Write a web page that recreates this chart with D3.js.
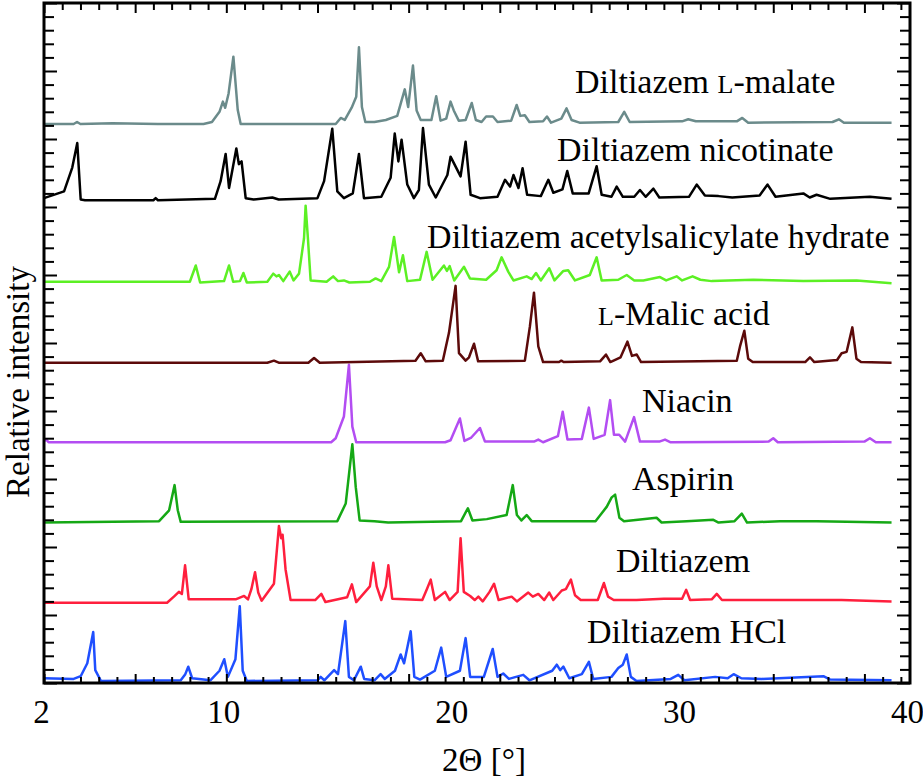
<!DOCTYPE html>
<html>
<head>
<meta charset="utf-8">
<script src="https://cdn.jsdelivr.net/npm/d3@7"></script>
<style>
  body { margin: 0; background: #fff; }
  svg { display: block; }
  text { font-family: "Liberation Serif", "Times New Roman", serif; fill: #000; }
</style>
</head>
<body>
<div id="chart"></div>
<script>
// PXRD patterns, [2theta, relative intensity]
const hcl = [[2.0,0.4],[3.3,0.3],[3.61,0.7],[3.9,2.6],[4.16,7.2],[4.25,1.6],[4.5,0],[8.0,0.1],[8.2,1.0],[8.33,2.1],[8.5,0.4],[9.3,0.1],[9.7,1.5],[9.91,3.2],[10.07,0.6],[10.4,3.2],[10.59,11.0],[10.72,1.5],[10.9,0],[14.0,0.1],[14.14,0.6],[14.3,0.1],[14.73,1.6],[14.9,1.0],[15.22,8.8],[15.38,0.6],[15.6,0.1],[15.9,2.1],[16.05,0.3],[16.5,0.1],[16.77,1.0],[16.95,0.3],[17.4,1.5],[17.65,3.9],[17.8,2.6],[18.09,7.3],[18.25,0.6],[18.5,0.2],[19.15,1.5],[19.43,4.9],[19.65,0.6],[20.25,1.5],[20.5,6.3],[20.7,0.6],[21.3,0.6],[21.69,4.7],[21.9,0.6],[22.15,1.1],[22.4,0.3],[23.03,0.9],[23.3,0.1],[24.3,1.5],[24.5,2.4],[24.65,1.6],[24.79,2.1],[25.05,0.4],[25.6,1.0],[25.91,2.8],[26.1,0.3],[26.9,0.6],[27.2,1.9],[27.4,2.4],[27.57,3.9],[27.75,0.6],[28.0,0],[29.5,0.3],[29.83,0.9],[30.1,0.1],[31.45,0.6],[32.0,0.4],[32.26,1.0],[32.6,0.4],[33.5,0.3],[36.2,0.7],[36.5,0.2],[39.19,0.1]];

const diltiazem = [[2.0,0],[7.4,0],[7.7,0.9],[7.92,1.6],[8.05,1.3],[8.19,5.5],[8.35,0.5],[10.41,0.5],[10.78,1.0],[10.95,0.5],[11.1,2.0],[11.26,4.5],[11.4,1.5],[11.55,0.3],[12.09,2.8],[12.31,11.3],[12.41,9.5],[12.47,10.0],[12.6,4.9],[12.82,0.4],[13.9,0.4],[14.17,1.3],[14.35,0.1],[15.3,0.8],[15.51,2.7],[15.7,0.1],[16.3,2.4],[16.45,5.9],[16.6,2.4],[16.8,0.4],[17.0,2.4],[17.11,5.5],[17.28,0.6],[18.6,0.4],[18.8,2.0],[18.97,3.4],[19.15,0.4],[19.6,1.6],[19.8,0.4],[20.15,1.6],[20.28,9.5],[20.42,1.6],[20.7,1.0],[20.9,0.4],[21.06,0.9],[21.25,0.2],[21.55,1.6],[21.75,2.8],[21.95,0.4],[22.52,0.9],[22.75,0.2],[23.25,1.5],[23.45,0.9],[23.69,1.3],[23.95,0.4],[24.17,1.5],[24.35,0.4],[24.72,1.8],[24.9,2.0],[25.12,3.4],[25.3,1.1],[25.55,0.4],[26.3,0.4],[26.57,2.9],[26.75,0.9],[27.0,0.4],[28.0,0.4],[29.2,0.6],[30.0,0.6],[30.18,1.9],[30.35,0.4],[31.3,0.5],[31.52,1.3],[31.75,0.4],[35.0,0.4],[37.0,0.4],[39.19,0.2]];

const aspirin = [[2.0,0.1],[7.05,0.3],[7.49,1.9],[7.73,5.6],[7.87,1.9],[8.0,0.2],[14.87,0.3],[15.24,2.9],[15.53,11.6],[15.68,5.3],[15.85,0.4],[16.5,0.3],[17.1,0.1],[20.3,0.3],[20.6,2.2],[20.8,0.4],[21.43,0.6],[22.3,1.2],[22.57,5.6],[22.75,1.2],[22.95,0.4],[23.18,1.2],[23.4,0.3],[24.15,0.3],[26.2,0.3],[26.69,2.4],[26.91,3.8],[27.06,4.2],[27.25,0.8],[27.45,0.3],[28.88,0.8],[29.1,0.1],[30.2,0.3],[31.37,0.5],[31.6,0.1],[32.3,0.3],[32.62,1.4],[32.85,0.1],[34.3,0.3],[35.9,0.3],[39.19,0.1]];

const niacin = [[2.0,0.3],[2.1,0.5],[2.2,0.1],[14.6,0.1],[14.8,0.7],[15.16,3.9],[15.38,11.5],[15.53,2.4],[15.7,0.1],[19.6,0.1],[19.84,0.4],[20.25,3.6],[20.45,0.3],[20.75,0.8],[21.13,2.2],[21.35,0.2],[23.5,0.2],[23.69,0.5],[23.9,0.1],[24.55,1.0],[24.76,4.6],[24.97,0.5],[25.6,0.6],[25.91,5.2],[26.12,0.6],[26.6,1.2],[26.84,6.3],[27.01,1.2],[27.24,1.2],[27.5,0.2],[27.89,3.8],[28.15,0.2],[29.0,0.2],[29.25,0.5],[29.5,0.1],[33.8,0.2],[34.0,0.7],[34.2,0.1],[38.0,0.2],[38.24,0.7],[38.5,0.1],[39.19,0.1]];

const malicAcid = [[2.0,0],[11.8,0],[12.09,0.3],[12.3,0],[13.6,0],[13.85,0.7],[14.1,0],[18.3,0.3],[18.53,1.4],[18.75,0.2],[19.5,0.3],[19.77,4.4],[20.06,11.3],[20.21,1.4],[20.5,0.3],[20.65,0.8],[20.87,2.8],[21.05,0.2],[23.1,0.3],[23.32,5.3],[23.5,10.3],[23.69,2.4],[23.9,0.1],[24.6,0.1],[24.7,0.3],[24.8,0.1],[26.4,0.2],[26.66,1.2],[26.85,0.1],[27.3,0.8],[27.6,3.1],[27.8,1.0],[28.01,1.2],[28.2,0.1],[32.4,0.3],[32.54,2.4],[32.73,4.7],[32.9,0.6],[33.1,0.1],[35.4,0.1],[35.61,0.8],[35.8,0.1],[36.8,0.4],[37.0,1.4],[37.22,1.6],[37.47,5.2],[37.65,0.6],[37.85,0.1],[39.19,0]];

const acetylsalicylate = [[2.0,0.2],[8.4,0.2],[8.66,2.6],[8.85,0.1],[9.9,0.3],[10.12,2.6],[10.3,0.2],[10.6,0.3],[10.75,1.5],[10.9,0.1],[11.8,0.2],[12.06,1.4],[12.2,1.0],[12.31,1.2],[12.5,0.3],[12.78,1.7],[12.95,0.4],[13.19,1.4],[13.41,6.6],[13.48,11.4],[13.58,6.6],[13.7,0.4],[14.4,0.2],[14.69,1.0],[14.9,0.3],[15.16,0.4],[15.4,0.1],[16.3,0.2],[16.55,0.7],[16.8,0.3],[17.14,2.4],[17.36,6.8],[17.58,1.6],[17.75,4.1],[17.94,0.3],[18.5,0.5],[18.79,4.6],[19.05,0.5],[19.55,2.6],[19.68,1.8],[19.8,2.5],[20.0,0.4],[20.43,2.4],[20.69,0.7],[21.4,0.5],[21.86,1.9],[22.08,3.8],[22.37,1.7],[22.6,0.4],[23.18,1.0],[23.4,0.6],[23.59,1.5],[23.8,0.4],[24.17,2.2],[24.4,0.4],[24.79,1.8],[25.0,1.9],[25.3,0.4],[25.95,1.2],[26.25,3.8],[26.47,0.4],[27.2,0.5],[27.57,1.2],[27.9,0.4],[28.3,0.4],[29.03,0.9],[29.3,0.4],[29.76,1.0],[30.0,0.4],[30.46,1.0],[30.8,0.5],[31.3,0.3],[33.12,0.5],[35.32,0.3],[37.66,0.4],[39.19,0]];

const nicotinate = [[2.0,0.3],[2.88,1.3],[3.24,4.8],[3.46,8.4],[3.61,0.1],[3.8,0],[6.8,0],[6.9,0.3],[7.0,0],[9.5,0.2],[9.75,2.8],[9.97,6.8],[10.12,1.8],[10.44,7.6],[10.55,5.3],[10.67,5.7],[10.85,0.3],[11.2,0.1],[12.02,0.4],[12.3,0.1],[14.0,0.3],[14.29,2.8],[14.65,10.5],[14.87,1.3],[15.16,0.3],[15.55,1.0],[15.82,6.8],[16.04,0.3],[16.8,0.5],[17.21,3.3],[17.39,9.8],[17.55,5.7],[17.69,8.9],[17.94,2.3],[18.23,0.3],[18.45,1.5],[18.63,10.6],[18.89,2.3],[19.19,0.4],[19.7,3.7],[19.84,6.4],[20.28,3.5],[20.5,8.6],[20.72,0.8],[21.13,0.3],[21.9,0.5],[22.23,3.0],[22.45,2.0],[22.6,3.7],[22.82,1.8],[23.0,4.7],[23.2,0.8],[23.8,0.6],[24.13,3.0],[24.35,1.1],[24.75,1.6],[24.96,4.3],[25.2,1.0],[25.9,1.0],[26.25,5.0],[26.47,0.8],[26.9,0.5],[27.13,2.0],[27.4,0.5],[27.9,0.5],[28.15,1.5],[28.4,0.5],[28.74,1.7],[29.0,0.4],[30.3,0.5],[30.64,2.3],[31.0,0.7],[31.6,0.6],[32.2,0.4],[33.4,0.7],[33.75,2.3],[34.1,0.5],[35.32,1.0],[35.6,0.4],[35.9,0.8],[36.5,0.2],[38.24,0.5],[39.19,0.2]];

const lMalate = [[2.0,0],[3.3,0],[3.45,0.3],[3.6,0],[5.0,0.1],[7.0,0],[9.0,0],[9.37,0.3],[9.7,1.8],[9.85,3.3],[9.95,2.4],[10.1,4.5],[10.31,9.9],[10.5,2.1],[10.63,0],[14.8,0],[15.02,0.9],[15.2,0.6],[15.5,2.4],[15.7,4.0],[15.82,11.3],[15.95,2.5],[16.1,0.3],[16.5,0.3],[17.0,0.6],[17.5,1.2],[17.83,5.1],[17.98,2.5],[18.19,8.6],[18.35,2.0],[18.53,0.6],[19.0,0.6],[19.21,4.1],[19.4,0.5],[19.65,0.8],[19.84,3.3],[19.98,2.0],[20.2,0.5],[20.5,0.6],[20.77,3.1],[20.95,0.6],[21.2,0.3],[21.4,1.1],[21.7,1.1],[21.9,0.3],[22.5,0.5],[22.74,2.8],[22.9,1.2],[23.1,1.3],[23.3,0.3],[23.9,0.4],[24.07,1.1],[24.25,0.2],[24.7,0.8],[24.93,2.3],[25.15,0.6],[25.5,0.2],[27.2,0.3],[27.46,1.8],[27.7,0.3],[30.0,0.4],[30.27,0.7],[30.6,0.4],[32.4,0.4],[32.64,0.9],[32.9,0.2],[36.6,0.3],[36.88,0.7],[37.1,0.2],[39.19,0.2]];

// bottom to top
const patterns = [hcl, diltiazem, aspirin, niacin, malicAcid, acetylsalicylate, nicotinate, lMalate];
const offsets = [0.3, 11.8, 23.5, 35.3, 47.1, 58.8, 71.0, 82.2];
// label parts: [text, smallCaps]
const names = [
  [["Diltiazem HCl", false]],
  [["Diltiazem", false]],
  [["Aspirin", false]],
  [["Niacin", false]],
  [["L", true], ["-Malic acid", false]],
  [["Diltiazem acetylsalicylate hydrate", false]],
  [["Diltiazem nicotinate", false]],
  [["Diltiazem ", false], ["L", true], ["-malate", false]]
];
const xLabelTicks = [2, 10, 20, 30, 40];

// styling / layout
const colors = ["#1f4fff", "#ff1f3d", "#15a815", "#b34df2", "#5c0a0a", "#5cf024", "#000000", "#6b8b8b"];
// label anchor in data coords [2theta, intensity]
const labelAt = [[25.83, 5.9], [27.10, 16.3], [27.80, 28.4], [28.24, 39.9], [26.31, 52.6], [18.81, 64.0], [24.51, 76.8], [25.30, 86.8]];

const width = 923, height = 779;
const plotLeft = 44, plotRight = 910, plotTop = 3, plotBottom = 683;

const svg = d3.select('#chart').append('svg')
  .attr('width', width)
  .attr('height', height)
  .attr('viewBox', [0, 0, width, height]);

const x = d3.scaleLinear().domain([2, 40]).range([plotLeft, plotRight]);
const y = d3.scaleLinear().domain([0, 100]).range([plotBottom, plotTop]);

// patterns
const line = d3.line().x(d => x(d[0])).y(d => y(d[1]));
svg.append('g').selectAll('path')
  .data(patterns)
  .join('path')
    .attr('d', (d, i) => line(d.map(p => [p[0], p[1] + offsets[i]])))
    .attr('fill', 'none')
    .attr('stroke', (d, i) => colors[i])
    .attr('stroke-width', 2.5)
    .attr('stroke-linejoin', 'round');

// ticks, all pointing inward
const xMajor = d3.range(2, 40.01, 4);
const xMinor = d3.range(2, 40, 0.8).filter(v => !xMajor.some(m => Math.abs(m - v) < 1e-6));
const yMajor = d3.range(0, 100.01, 10);
const yMinor = d3.range(0, 100, 2).filter(v => v % 10 !== 0);

function tickAxis(axis, vals, size, tx, ty) {
  const g = svg.append('g')
    .attr('transform', `translate(${tx},${ty})`)
    .call(axis.tickValues(vals).tickSize(size).tickFormat(''));
  g.select('.domain').remove();
  g.selectAll('line').attr('stroke', '#000').attr('stroke-width', 2);
  return g;
}
tickAxis(d3.axisBottom(x), xMajor, -9, 0, plotBottom);
tickAxis(d3.axisBottom(x), xMinor, -6, 0, plotBottom);
tickAxis(d3.axisTop(x), xMajor, -10, 0, plotTop);
tickAxis(d3.axisTop(x), xMinor, -7, 0, plotTop);
tickAxis(d3.axisLeft(y), yMajor, -13, plotLeft, 0);
tickAxis(d3.axisLeft(y), yMinor, -10, plotLeft, 0);
tickAxis(d3.axisRight(y), yMajor, -13, plotRight, 0);
tickAxis(d3.axisRight(y), yMinor, -10, plotRight, 0);

// frame
svg.append('rect')
  .attr('x', plotLeft).attr('y', plotTop)
  .attr('width', plotRight - plotLeft).attr('height', plotBottom - plotTop)
  .attr('fill', 'none').attr('stroke', '#000').attr('stroke-width', 3);

// x tick labels
const xl = svg.append('g')
  .attr('transform', `translate(-3,${plotBottom})`)
  .call(d3.axisBottom(x).tickValues(xLabelTicks).tickSize(0).tickPadding(0).tickFormat(d3.format('d')));
xl.select('.domain').remove();
xl.selectAll('text')
  .attr('dy', null)
  .attr('y', 40)
  .attr('fill', '#000')
  .style('font-size', '33px')
  .style('font-family', '"Liberation Serif", "Times New Roman", serif');

// axis titles
svg.append('text')
  .attr('x', 484).attr('y', 771)
  .attr('text-anchor', 'middle')
  .style('font-size', '33px')
  .text('2Θ [°]');

svg.append('text')
  .attr('transform', 'translate(29,382) rotate(-90)')
  .attr('text-anchor', 'middle')
  .style('font-size', '33px')
  .text('Relative intensity');

// pattern labels
svg.append('g').selectAll('text')
  .data(names)
  .join('text')
    .attr('x', (d, i) => x(labelAt[i][0]))
    .attr('y', (d, i) => y(labelAt[i][1]))
    .style('font-size', '34px')
    .selectAll('tspan')
    .data(d => d)
    .join('tspan')
      .style('font-size', d => d[1] ? '26px' : null)
      .text(d => d[0]);
</script>
</body>
</html>
